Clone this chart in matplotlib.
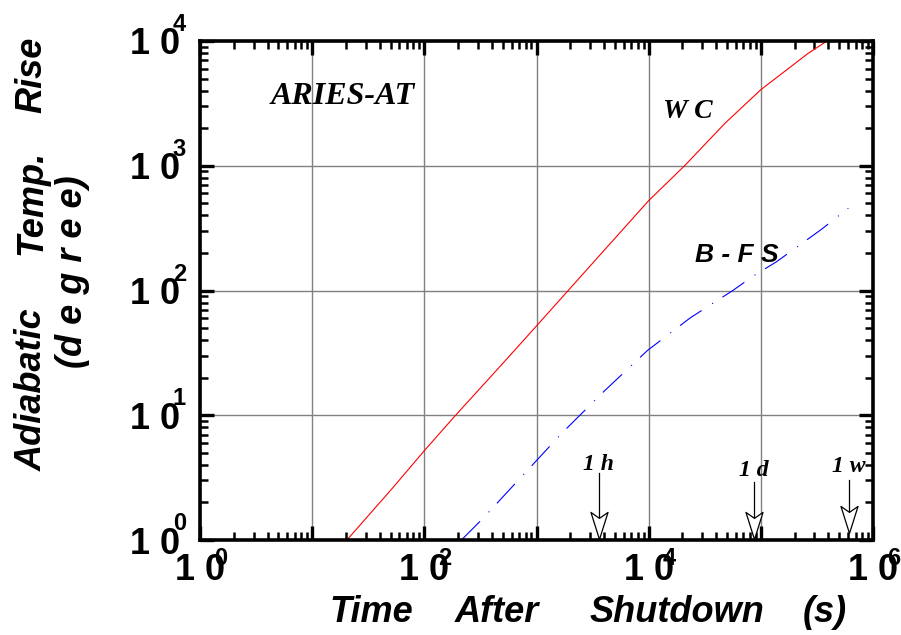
import matplotlib
matplotlib.use("Agg")
import matplotlib.pyplot as plt
from matplotlib.ticker import LogLocator, NullFormatter
from matplotlib.path import Path

# ---- data ----
wc_time = [20.4, 50, 100, 190, 500, 1000, 3630, 1e4, 2.09e4, 4.79e4, 1e5, 2.63e5, 3.89e5]
wc_temp = [1.0, 2.5, 5.2, 10, 26, 52, 190, 525, 1000, 2190, 4070, 7940, 1e4]

bfs_time = [214, 331, 741, 1698, 3981, 9772, 23442, 56234, 87096, 138038, 346737, 602560]
bfs_temp = [1.0, 1.48, 3.24, 7.24, 15.5, 33.1, 60.3, 100, 132, 170, 309, 457]

x_major = [1, 10, 100, 1e3, 1e4, 1e5, 1e6]
x_labels = ['1 0', '', '1 0', '', '1 0', '', '1 0']
x_exps = ['0', '', '2', '', '4', '', '6']
y_major = [1, 10, 100, 1e3, 1e4]
y_labels = ['1 0', '1 0', '1 0', '1 0', '1 0']
y_exps = ['0', '1', '2', '3', '4']

marks_time = [3600, 86400, 604800]
marks_text = ['1 h', '1 d', '1 w']
marks_texty = [4.0, 3.63, 3.85]
marks_starty = [3.44, 2.91, 3.02]
marks_tipy = [1.018, 1.018, 1.137]

xlabel_words = ['Time', 'After', 'Shutdown', '(s)']
ylabel_words = ['Adiabatic', 'Temp.', 'Rise']

SANS = 'Liberation Sans'
SERIF = 'Liberation Serif'
plt.rcParams['lines.scale_dashes'] = False

W, H = 901, 635
fig = plt.figure(figsize=(W/100, H/100), dpi=100)
ax = fig.add_axes([200/W, 1-540/H, 673/W, 499/H])
ax.set_xscale('log')
ax.set_yscale('log')

ax.plot(wc_time, wc_temp, color='#ff0000', lw=0.8)
ax.plot(bfs_time, bfs_temp, color='#0000ff', lw=0.8, dashes=(19, 9, 0.8, 8))

ax.grid(True, which='major', color='#808080', lw=1.0)
ax.set_axisbelow(True)

for s in ax.spines.values():
    s.set_linewidth(2.6)

ax.xaxis.set_minor_locator(LogLocator(base=10, subs=range(2, 10), numticks=20))
ax.yaxis.set_minor_locator(LogLocator(base=10, subs=range(2, 10), numticks=20))
ax.xaxis.set_minor_formatter(NullFormatter())
ax.yaxis.set_minor_formatter(NullFormatter())
ax.set_xticks(x_major)
ax.set_xticklabels(x_labels)
ax.set_yticks(y_major)
ax.set_yticklabels(y_labels)
ax.set_xlim(1, 1e6)
ax.set_ylim(1, 1e4)

ax.tick_params(which='both', direction='in', top=True, right=True)
ax.tick_params(which='major', length=10, width=2.4)
ax.tick_params(which='minor', length=6, width=1.8)
ax.tick_params(axis='x', which='major', pad=9)
ax.tick_params(axis='y', which='major', pad=14)
for lab in ax.get_xticklabels() + ax.get_yticklabels():
    lab.set_fontfamily(SANS)
    lab.set_fontweight('bold')
    lab.set_fontsize(26)

# exponents
for xv, e in zip(x_major, x_exps):
    if e:
        ax.annotate(e, xy=(xv, 0), xycoords=('data', 'axes fraction'),
                    xytext=(10, -5), textcoords='offset points',
                    ha='left', va='top', fontsize=17, fontweight='bold', family=SANS)
for yv, e in zip(y_major, y_exps):
    ax.annotate(e, xy=(0, yv), xycoords=('axes fraction', 'data'),
                xytext=(-19.5, 20), textcoords='offset points',
                ha='left', va='top', fontsize=17, fontweight='bold', family=SANS)

def figtext(x, y, s, **kw):
    kw.setdefault('ha', 'center')
    kw.setdefault('va', 'center')
    fig.text(x/W, 1-y/H, s, **kw)

# x label, word by word
lab_kw = dict(fontsize=26, fontweight='bold', style='italic', family=SANS)
for word, xc in zip(xlabel_words, [371, 497, 677, 825]):
    figtext(xc, 622, word, ha='center', va='baseline', **lab_kw)

# y label, word by word (rotated)
for word, yc in zip(ylabel_words, [390, 202, 75]):
    figtext(32, yc, word, rotation=90, **lab_kw)
figtext(73, 272, '(d e g r e e)', rotation=90, **lab_kw)

figtext(343, 97, 'ARIES-AT', fontsize=23, fontweight='bold', style='italic', family=SERIF)
figtext(688, 111, 'W C', fontsize=20, fontweight='bold', style='italic', family=SERIF)
figtext(737, 255, 'B - F S', fontsize=19, fontweight='bold', style='italic', family=SANS)

# notched hollow arrowhead, tip at origin
head = Path([(0, 0), (0.315, 1.0), (0, 0.78), (-0.315, 1.0), (0, 0)],
            [Path.MOVETO, Path.LINETO, Path.LINETO, Path.LINETO, Path.CLOSEPOLY])
for t, s, ty, sy, tip in zip(marks_time, marks_text, marks_texty, marks_starty, marks_tipy):
    ax.text(t, ty, s, ha='center', va='center',
            fontsize=17, fontweight='bold', style='italic', family=SERIF)
    ax.plot([t, t], [sy, tip * 1.3], color='black', lw=0.9, zorder=4)
    ax.plot([t], [tip], marker=head, ms=39, mfc='white', mec='black', mew=0.9,
            zorder=5, clip_on=False)

fig.savefig('out.png', dpi=100)
